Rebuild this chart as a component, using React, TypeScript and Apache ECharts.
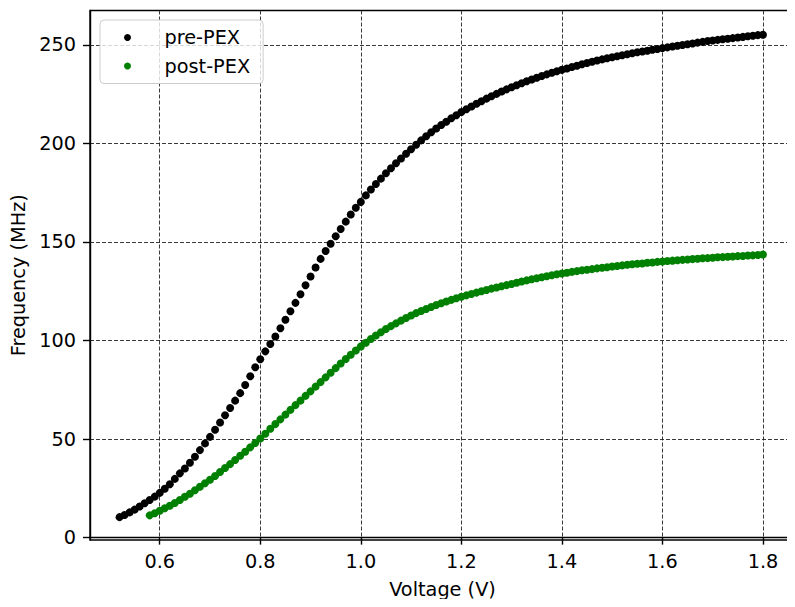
import React, { useEffect, useRef } from "react";
import * as echarts from "echarts";

// Voltage sweep: uniform 10 mV steps starting at the given voltage.
const SWEEP_STEP = 0.01;
const PRE_START_V = 0.52;
const POST_START_V = 0.58;

// Ring-oscillator frequency (MHz) before parasitic extraction, 0.52 V .. 1.80 V
const preFreq = [
  10.4, 11.5, 12.8, 14.2, 15.8, 17.4, 19.1, 20.8, 22.7, 24.8,
  27.1, 29.8, 32.6, 35.1, 38.0, 41.0, 44.4, 47.8, 51.1, 54.7,
  58.4, 62.1, 65.8, 69.5, 73.3, 77.4, 81.9, 86.4, 90.5, 94.5,
  98.2, 102.0, 106.2, 110.5, 114.8, 119.1, 123.5, 128.0, 132.5, 137.0,
  141.4, 145.4, 149.1, 152.9, 156.6, 160.3, 163.9, 167.3, 170.3, 173.6,
  176.6, 179.4, 182.1, 184.8, 187.4, 189.9, 192.3, 194.7, 197.0, 199.3,
  201.5, 203.6, 205.6, 207.5, 209.3, 211.0, 212.7, 214.3, 215.9, 217.3,
  218.7, 220.1, 221.4, 222.7, 223.9, 225.1, 226.3, 227.4, 228.5, 229.5,
  230.5, 231.5, 232.4, 233.3, 234.2, 235.0, 235.8, 236.6, 237.3, 238.0,
  238.7, 239.4, 240.1, 240.8, 241.4, 242.0, 242.6, 243.2, 243.7, 244.2,
  244.7, 245.2, 245.7, 246.2, 246.6, 247.0, 247.5, 247.9, 248.3, 248.7,
  249.1, 249.5, 249.9, 250.3, 250.7, 251.1, 251.5, 251.9, 252.2, 252.5,
  252.8, 253.1, 253.4, 253.7, 254.0, 254.3, 254.6, 254.9, 255.1,
];

// Frequency (MHz) after parasitic extraction, 0.58 V .. 1.80 V
const postFreq = [
  11.3, 12.4, 13.6, 14.9, 16.2, 17.6, 19.1, 20.7, 22.3, 24.0,
  25.8, 27.6, 29.4, 31.3, 33.3, 35.3, 37.3, 39.4, 41.5, 43.6,
  45.8, 48.0, 50.3, 52.7, 55.2, 57.6, 60.0, 62.4, 64.8, 67.2,
  69.5, 71.9, 74.2, 76.6, 78.9, 81.3, 83.6, 86.0, 88.3, 90.6,
  92.8, 94.9, 97.0, 98.9, 100.8, 102.5, 104.2, 105.8, 107.3, 108.7,
  110.1, 111.4, 112.7, 113.9, 115.0, 116.0, 117.0, 118.0, 118.9, 119.8,
  120.6, 121.4, 122.2, 122.9, 123.6, 124.3, 125.0, 125.6, 126.3, 126.9,
  127.5, 128.1, 128.7, 129.3, 129.9, 130.5, 131.1, 131.6, 132.1, 132.6,
  133.1, 133.6, 134.0, 134.4, 134.8, 135.2, 135.6, 135.9, 136.2, 136.6,
  136.9, 137.2, 137.5, 137.8, 138.1, 138.4, 138.7, 138.9, 139.1, 139.4,
  139.6, 139.9, 140.1, 140.3, 140.5, 140.7, 140.9, 141.1, 141.3, 141.5,
  141.7, 141.8, 142.0, 142.2, 142.3, 142.5, 142.6, 142.8, 142.9, 143.1,
  143.2, 143.4, 143.6,
];

const seriesNames = ["pre-PEX", "post-PEX"];
const seriesColors = ["#000000", "#008000"];

const xTicks = [0.6, 0.8, 1.0, 1.2, 1.4, 1.6, 1.8];
const yTicks = [0, 50, 100, 150, 200, 250];

const X_MIN = 0.46125;
const X_MAX = 1.86375;
const Y_MIN = -1.2;
const Y_MAX = 267.4;

const FONT = "DejaVu Sans";
const FONT_SIZE = 19.3;
const MARKER_SIZE = 8;

function toPoints(startV: number, values: number[]): number[][] {
  return values.map((f, i) => [
    Math.round((startV + i * SWEEP_STEP) * 1000) / 1000,
    f,
  ]);
}

const gridLine = {
  show: true,
  lineStyle: { color: "#222", width: 0.9, type: [4, 2] as number[] },
};

export default function App() {
  const ref = useRef<HTMLDivElement>(null);

  useEffect(() => {
    if (!ref.current) return;
    const chart = echarts.init(ref.current, undefined, { renderer: "svg" });

    const labelStyle = {
      color: "#000",
      fontFamily: FONT,
      fontSize: FONT_SIZE,
    };

    chart.setOption({
      animation: false,
      backgroundColor: "#ffffff",
      grid: {
        left: 90,
        right: -6,
        top: 10.5,
        bottom: 67,
        show: true,
        borderColor: "#000",
        borderWidth: 1.4,
        backgroundColor: "transparent",
      },
      legend: {
        data: seriesNames,
        orient: "vertical",
        left: 100,
        top: 20,
        padding: [8, 13, 8, 24],
        itemGap: 9.5,
        itemWidth: 7,
        itemHeight: 7,
        icon: "circle",
        borderColor: "#cccccc",
        borderWidth: 1,
        borderRadius: 4,
        backgroundColor: "rgba(255,255,255,0.8)",
        formatter: (name: string) => `{gap| }${name}`,
        textStyle: {
          ...labelStyle,
          rich: {
            gap: { width: 28.5, fontSize: FONT_SIZE, fontFamily: FONT },
          },
        },
      },
      xAxis: {
        type: "value",
        min: X_MIN,
        max: X_MAX,
        name: "Voltage (V)",
        nameLocation: "middle",
        nameGap: 40,
        nameTextStyle: labelStyle,
        axisLine: { show: true, lineStyle: { color: "#000", width: 1.4 } },
        axisTick: {
          show: true,
          length: 7,
          customValues: xTicks,
          lineStyle: { color: "#000", width: 1.4 },
        },
        axisLabel: {
          ...labelStyle,
          margin: 12,
          customValues: xTicks,
          formatter: (v: number) => v.toFixed(1),
        },
        splitLine: gridLine,
      },
      yAxis: {
        type: "value",
        min: Y_MIN,
        max: Y_MAX,
        name: "Frequency (MHz)",
        nameLocation: "middle",
        nameGap: 60,
        nameTextStyle: labelStyle,
        axisLine: { show: true, lineStyle: { color: "#000", width: 1.4 } },
        axisTick: {
          show: true,
          length: 7,
          customValues: yTicks,
          lineStyle: { color: "#000", width: 1.4 },
        },
        axisLabel: {
          ...labelStyle,
          margin: 14,
          customValues: yTicks,
          formatter: (v: number) => String(Math.round(v)),
        },
        splitLine: gridLine,
      },
      series: [
        {
          name: seriesNames[0],
          type: "scatter",
          data: toPoints(PRE_START_V, preFreq),
          symbol: "circle",
          symbolSize: MARKER_SIZE,
          itemStyle: { color: seriesColors[0], opacity: 1 },
          emphasis: { disabled: true },
        },
        {
          name: seriesNames[1],
          type: "scatter",
          data: toPoints(POST_START_V, postFreq),
          symbol: "circle",
          symbolSize: MARKER_SIZE,
          itemStyle: { color: seriesColors[1], opacity: 1 },
          emphasis: { disabled: true },
        },
      ],
    });

    return () => chart.dispose();
  }, []);

  return <div ref={ref} style={{ width: 795, height: 607, margin: -8 }} />;
}
